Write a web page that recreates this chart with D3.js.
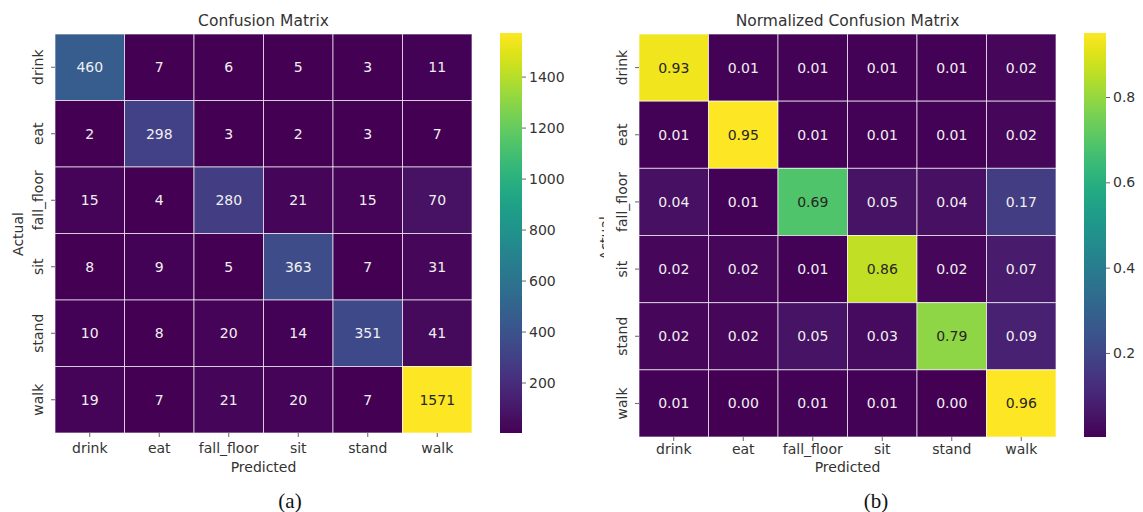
<!DOCTYPE html>
<html>
<head>
<meta charset="utf-8">
<script src="https://cdn.jsdelivr.net/npm/d3@7"></script>
<style>
  body { margin: 0; background: #fff; }
  svg { font-family: "DejaVu Sans", sans-serif; }
</style>
</head>
<body>
<svg width="1143" height="512"></svg>
<script>
const classes = ['drink', 'eat', 'fall_floor', 'sit', 'stand', 'walk']

// rows = actual, columns = predicted
const counts = [
  [460, 7, 6, 5, 3, 11],
  [2, 298, 3, 2, 3, 7],
  [15, 4, 280, 21, 15, 70],
  [8, 9, 5, 363, 7, 31],
  [10, 8, 20, 14, 351, 41],
  [19, 7, 21, 20, 7, 1571]
]

const normalized = [
  [0.93, 0.01, 0.01, 0.01, 0.01, 0.02],
  [0.01, 0.95, 0.01, 0.01, 0.01, 0.02],
  [0.04, 0.01, 0.69, 0.05, 0.04, 0.17],
  [0.02, 0.02, 0.01, 0.86, 0.02, 0.07],
  [0.02, 0.02, 0.05, 0.03, 0.79, 0.09],
  [0.01, 0.00, 0.01, 0.01, 0.00, 0.96]
]

const countTicks = [200, 400, 600, 800, 1000, 1200, 1400]
const normTicks = [0.2, 0.4, 0.6, 0.8]

const svg = d3.select('svg')
const textColor = '#333'

// seaborn-like choice of annotation colour from cell luminance
const lum = c => {
  const rgb = d3.rgb(c)
  const f = v => { v /= 255; return v <= 0.03928 ? v / 12.92 : Math.pow((v + 0.055) / 1.055, 2.4) }
  return 0.2126 * f(rgb.r) + 0.7152 * f(rgb.g) + 0.0722 * f(rgb.b)
}

const drawPanel = (opts) => {
  const { data, left, top, w, h, title, fmt, cbX, cbDomain, ticks, tickFmt, caption, captionX, id, xLabelOff } = opts
  const g = svg.append('g')

  const xScale = d3.scaleBand().domain(classes).range([left, left + w])
  const yScale = d3.scaleBand().domain(classes).range([top, top + h])
  const color = d3.scaleSequential(d3.interpolateViridis).domain(cbDomain)

  const cells = data.flatMap((row, i) => row.map((v, j) => ({ r: classes[i], c: classes[j], v })))

  g.selectAll('rect.cell').data(cells)
    .enter().append('rect')
    .attr('class', 'cell')
    .attr('x', d => xScale(d.c))
    .attr('y', d => yScale(d.r))
    .attr('width', xScale.bandwidth())
    .attr('height', yScale.bandwidth())
    .attr('fill', d => color(d.v))
    .attr('stroke', 'rgba(255,255,255,0.65)')
    .attr('stroke-width', 1)

  g.selectAll('text.ann').data(cells)
    .enter().append('text')
    .attr('class', 'ann')
    .attr('x', d => xScale(d.c) + xScale.bandwidth() / 2)
    .attr('y', d => yScale(d.r) + yScale.bandwidth() / 2)
    .attr('text-anchor', 'middle')
    .attr('dominant-baseline', 'central')
    .style('font-size', '14px')
    .style('fill', d => lum(color(d.v)) > 0.408 ? '#262626' : '#f0f0f0')
    .text(d => fmt(d.v))

  // title
  g.append('text')
    .attr('x', left + w / 2)
    .attr('y', 21)
    .attr('text-anchor', 'middle')
    .attr('dominant-baseline', 'central')
    .style('font-size', '15.5px')
    .style('fill', textColor)
    .text(title)

  // x axis
  const xAxisG = g.append('g')
    .attr('transform', `translate(0, ${top + h})`)
    .call(d3.axisBottom(xScale).tickSize(4))
  xAxisG.select('.domain').remove()
  xAxisG.selectAll('line').attr('stroke', '#666')
  xAxisG.selectAll('text')
    .attr('y', xLabelOff).attr('dy', null)
    .attr('dominant-baseline', 'central')
    .style('font-size', '14px')
    .style('fill', textColor)
    .style('font-family', '"DejaVu Sans", sans-serif')

  g.append('text')
    .attr('x', left + w / 2)
    .attr('y', 467)
    .attr('text-anchor', 'middle')
    .attr('dominant-baseline', 'central')
    .style('font-size', '14px')
    .style('fill', textColor)
    .text('Predicted')

  // y axis
  const yAxisG = g.append('g')
    .attr('transform', `translate(${left}, 0)`)
    .call(d3.axisLeft(yScale).tickSize(4))
  yAxisG.select('.domain').remove()
  yAxisG.selectAll('line').attr('stroke', '#666')
  yAxisG.selectAll('text')
    .attr('x', null).attr('dy', null)
    .attr('text-anchor', 'middle')
    .attr('dominant-baseline', 'central')
    .attr('transform', 'translate(-17, 0) rotate(-90)')
    .style('font-size', '14px')
    .style('fill', textColor)
    .style('font-family', '"DejaVu Sans", sans-serif')

  // colorbar
  const cbTop = 33, cbBottom = top + h, cbW = 22
  const cbScale = d3.scaleLinear().domain(cbDomain).range([cbBottom, cbTop])
  const grad = svg.append('defs').append('linearGradient')
    .attr('id', id).attr('x1', 0).attr('y1', 1).attr('x2', 0).attr('y2', 0)
  d3.range(0, 1.0001, 0.05).forEach(t => {
    grad.append('stop').attr('offset', t).attr('stop-color', d3.interpolateViridis(t))
  })
  g.append('rect')
    .attr('x', cbX).attr('y', cbTop)
    .attr('width', cbW).attr('height', cbBottom - cbTop)
    .attr('fill', `url(#${id})`)

  const cbAxisG = g.append('g')
    .attr('transform', `translate(${cbX + cbW}, 0)`)
    .call(d3.axisRight(cbScale).tickValues(ticks).tickFormat(tickFmt).tickSize(4).tickPadding(3))
  cbAxisG.select('.domain').remove()
  cbAxisG.selectAll('line').attr('stroke', '#666')
  cbAxisG.selectAll('text')
    .style('font-size', '14px')
    .style('fill', textColor)
    .style('font-family', '"DejaVu Sans", sans-serif')

  // caption
  g.append('text')
    .attr('x', captionX)
    .attr('y', 501)
    .attr('text-anchor', 'middle')
    .attr('dominant-baseline', 'central')
    .style('font-family', '"Liberation Serif", "Times New Roman", serif')
    .style('font-size', '21px')
    .style('fill', '#111')
    .text(caption)

  return g
}

const gA = drawPanel({
  data: counts, left: 55, top: 34, w: 417, h: 399,
  title: 'Confusion Matrix', fmt: d3.format('d'),
  cbX: 500, cbDomain: [2, 1571], ticks: countTicks, tickFmt: d3.format('d'),
  caption: '(a)', captionX: 290, id: 'gradA', xLabelOff: 15
})

gA.append('text')
  .attr('transform', 'translate(18, 234) rotate(-90)')
  .attr('text-anchor', 'middle')
  .attr('dominant-baseline', 'central')
  .style('font-size', '14px')
  .style('fill', textColor)
  .text('Actual')

const gB = drawPanel({
  data: normalized, left: 639, top: 34, w: 417, h: 403,
  title: 'Normalized Confusion Matrix', fmt: d3.format('.2f'),
  cbX: 1084, cbDomain: [0.003, 0.95], ticks: normTicks, tickFmt: d3.format('.1f'),
  caption: '(b)', captionX: 876, id: 'gradB', xLabelOff: 12
})

// the "Actual" label of panel (b) is mostly hidden behind the tick labels
svg.append('defs').append('clipPath').attr('id', 'clipActual')
  .append('rect').attr('x', 590).attr('y', 200).attr('width', 14).attr('height', 80)
gB.append('g')
  .attr('clip-path', 'url(#clipActual)')
  .append('text')
  .attr('transform', 'translate(605, 238) rotate(-90)')
  .attr('text-anchor', 'middle')
  .attr('dominant-baseline', 'central')
  .style('font-size', '14px')
  .style('fill', textColor)
  .text('Actual')
</script>
</body>
</html>
